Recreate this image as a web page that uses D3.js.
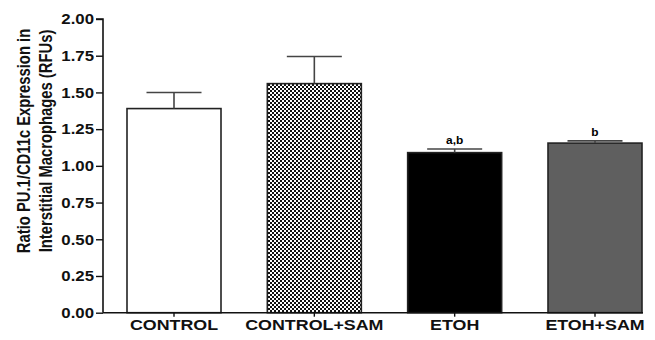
<!DOCTYPE html>
<html>
<head>
<meta charset="utf-8">
<script src="https://cdn.jsdelivr.net/npm/d3@7"></script>
<style>
  html, body { margin: 0; padding: 0; background: #fff; }
  svg { display: block; }
  text { font-family: "Liberation Sans", Arial, sans-serif; }
</style>
</head>
<body>
<svg id="chart" width="655" height="340"></svg>
<script>
const categories = ["CONTROL", "CONTROL+SAM", "ETOH", "ETOH+SAM"];
const means = [1.39, 1.56, 1.09, 1.155];
const errTops = [1.50, 1.745, 1.115, 1.17];
const sigLabels = ["", "", "a,b", "b"];
const fills = ["#ffffff", "url(#checker)", "#000000", "#5f5f5f"];
const yTicks = [0, 0.25, 0.5, 0.75, 1.0, 1.25, 1.5, 1.75, 2.0];
const yTitle = ["Ratio PU.1/CD11c Expression in", "Interstitial Macrophages  (RFUs)"];

const svg = d3.select("#chart");
const defs = svg.append("defs");
const pat = defs.append("pattern").attr("id", "checker")
  .attr("patternUnits", "userSpaceOnUse").attr("width", 4).attr("height", 4);
pat.append("rect").attr("width", 4).attr("height", 4).attr("fill", "#fff");
pat.append("rect").attr("x", 0).attr("y", 0).attr("width", 2).attr("height", 2).attr("fill", "#111");
pat.append("rect").attr("x", 2).attr("y", 2).attr("width", 2).attr("height", 2).attr("fill", "#111");

const x0 = 103, x1 = 643, yTop = 19, yBot = 312.7;
const y = d3.scaleLinear().domain([0, 2]).range([yBot, yTop]);
const xc = d3.scalePoint().domain(categories).range([174, 595]);
const barW = 94, capW = 55;
const stretch = 1.19;

// bars
svg.append("g").selectAll("rect").data(categories).join("rect")
  .attr("x", d => xc(d) - barW / 2)
  .attr("y", (d, i) => y(means[i]))
  .attr("width", barW)
  .attr("height", (d, i) => yBot - y(means[i]))
  .attr("fill", (d, i) => fills[i])
  .attr("stroke", "#222")
  .attr("stroke-width", 1.6);

// error bars
const eg = svg.append("g").attr("stroke", "#444").attr("stroke-width", 1.6);
categories.forEach((c, i) => {
  eg.append("line").attr("x1", xc(c)).attr("x2", xc(c))
    .attr("y1", y(means[i])).attr("y2", y(errTops[i]));
  eg.append("line").attr("x1", xc(c) - capW / 2).attr("x2", xc(c) + capW / 2)
    .attr("y1", y(errTops[i])).attr("y2", y(errTops[i]));
});

// significance labels
svg.append("g").selectAll("text").data(categories).join("text")
  .attr("transform", (d, i) => `translate(${xc(d)},${y(errTops[i]) - 4.5}) scale(${stretch},1)`)
  .attr("text-anchor", "middle")
  .attr("font-size", 10).attr("font-weight", "bold")
  .text((d, i) => sigLabels[i]);

// y axis
const yAxis = d3.axisLeft(y).tickValues(yTicks).tickFormat(d3.format(".2f"))
  .tickSize(7).tickPadding(3);
const ya = svg.append("g").attr("transform", `translate(${x0},0)`).call(yAxis);
ya.select(".domain").attr("stroke", "#111").attr("stroke-width", 1.6)
  .attr("d", `M-7,${yTop}H0V${yBot}`);
ya.selectAll(".tick line").attr("stroke", "#111").attr("stroke-width", 1.4);
ya.selectAll(".tick text")
  .attr("x", null)
  .attr("transform", `translate(-9,0) scale(1.12,1)`)
  .attr("font-size", 15).attr("font-weight", "bold")
  .attr("fill", "#111").attr("font-family", "Liberation Sans, Arial, sans-serif");

// x axis
const xa = svg.append("g").attr("transform", `translate(0,${yBot})`);
xa.append("line").attr("x1", x0).attr("x2", x1).attr("y1", 0).attr("y2", 0)
  .attr("stroke", "#111").attr("stroke-width", 1.6);
xa.selectAll("line.tk").data(categories).join("line").attr("class", "tk")
  .attr("x1", d => xc(d)).attr("x2", d => xc(d)).attr("y1", 0).attr("y2", 4)
  .attr("stroke", "#111").attr("stroke-width", 1.4);
xa.selectAll("text").data(categories).join("text")
  .attr("transform", d => `translate(${xc(d)},17.5) scale(${stretch},1)`)
  .attr("text-anchor", "middle")
  .attr("font-size", 15).attr("font-weight", "bold").attr("fill", "#111")
  .text(d => d);

// y title (rotated; cross-direction stretched like the rest of the text)
const tg = svg.append("g").attr("transform", `translate(0,141) rotate(-90) scale(1,${stretch})`);
tg.selectAll("text").data(yTitle).join("text")
  .attr("x", 0)
  .attr("y", (d, i) => (30 + i * 22) / stretch)
  .attr("text-anchor", "middle")
  .attr("font-size", 14.8).attr("font-weight", "bold").attr("fill", "#111")
  .text(d => d);
</script>
</body>
</html>
